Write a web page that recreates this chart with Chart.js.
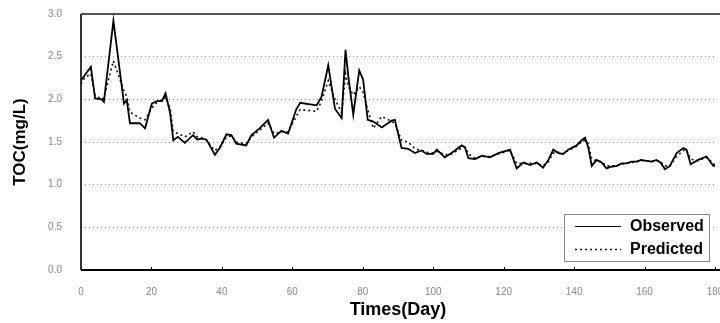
<!DOCTYPE html>
<html>
<head>
<meta charset="utf-8">
<script src="https://cdn.jsdelivr.net/npm/chart.js@4/dist/chart.umd.min.js"></script>
<style>
  html, body { margin: 0; padding: 0; background: #fff; }
  #wrap { width: 720px; height: 323px; }
</style>
</head>
<body>
<div id="wrap"><canvas id="tocChart" width="720" height="323"></canvas></div>
<script>
// sampling days (shared by both series)
var days = [0, 1, 2.8, 4, 5.9, 6.5, 9.2, 12.2, 13, 13.9, 16.7, 18.2, 20.1, 21.5, 23, 24,
  25.3, 26.2, 27.5, 29.5, 31.8, 33, 34.2, 35.6, 38, 39.4, 41.3, 42.7, 44.1, 46.9, 48.4,
  50.7, 53.1, 54.8, 56.9, 58.8, 61.1, 62.2, 66.9, 68.3, 70.2, 72.1, 74, 75.1, 75.9, 77.3,
  79, 80.1, 81.4, 83, 85.4, 88.2, 89.1, 91, 92.9, 94.8, 96.7, 98.1, 100, 101, 103.3,
  105.2, 108.1, 109, 110, 111.9, 113.8, 116.1, 118.5, 121.8, 123.7, 125.6, 127.5, 129.4,
  131.2, 132.7, 134.1, 135.5, 136.9, 138.3, 140.7, 142.1, 143.1, 144, 145, 146.4, 147.8,
  149.2, 150.5, 152.1, 153.5, 154.9, 156.3, 157.8, 159, 160.6, 162, 163.4, 164.5, 165.8,
  167.2, 169.1, 171, 171.9, 173.1, 175.2, 177.6, 179.5, 180];

var observed = [2.22, 2.28, 2.38, 2.01, 2.00, 1.97, 2.92, 1.95, 1.99, 1.72, 1.72, 1.66,
  1.95, 1.98, 1.98, 2.07, 1.84, 1.52, 1.56, 1.49, 1.58, 1.53, 1.54, 1.53, 1.35, 1.43,
  1.59, 1.58, 1.48, 1.46, 1.58, 1.66, 1.76, 1.55, 1.63, 1.60, 1.88, 1.96, 1.93, 2.03,
  2.40, 1.89, 1.78, 2.58, 2.27, 1.82, 2.34, 2.23, 1.76, 1.74, 1.67, 1.75, 1.76, 1.43,
  1.42, 1.37, 1.40, 1.36, 1.36, 1.41, 1.32, 1.37, 1.46, 1.44, 1.31, 1.30, 1.34, 1.32,
  1.37, 1.41, 1.19, 1.26, 1.23, 1.26, 1.20, 1.29, 1.41, 1.37, 1.36, 1.41, 1.46, 1.52,
  1.55, 1.44, 1.22, 1.29, 1.26, 1.19, 1.21, 1.22, 1.25, 1.25, 1.27, 1.27, 1.29, 1.28,
  1.27, 1.29, 1.26, 1.18, 1.22, 1.37, 1.43, 1.41, 1.24, 1.29, 1.33, 1.22, 1.22];

var predicted = [2.18, 2.25, 2.30, 2.05, 2.00, 2.02, 2.45, 2.10, 2.03, 1.85, 1.78, 1.76,
  1.90, 1.96, 2.00, 2.02, 1.90, 1.62, 1.60, 1.56, 1.62, 1.56, 1.55, 1.52, 1.40, 1.44,
  1.56, 1.57, 1.50, 1.48, 1.56, 1.64, 1.72, 1.60, 1.62, 1.62, 1.80, 1.88, 1.86, 1.98,
  2.22, 2.00, 1.84, 2.30, 2.15, 2.05, 2.15, 2.08, 1.88, 1.66, 1.80, 1.74, 1.72, 1.52,
  1.50, 1.42, 1.40, 1.38, 1.37, 1.39, 1.35, 1.36, 1.43, 1.44, 1.36, 1.31, 1.33, 1.33,
  1.36, 1.40, 1.25, 1.25, 1.25, 1.25, 1.22, 1.27, 1.37, 1.38, 1.36, 1.40, 1.45, 1.50,
  1.52, 1.48, 1.30, 1.28, 1.27, 1.22, 1.22, 1.22, 1.24, 1.25, 1.26, 1.27, 1.28, 1.28,
  1.27, 1.28, 1.27, 1.22, 1.22, 1.33, 1.40, 1.41, 1.30, 1.28, 1.32, 1.25, 1.23];

var seriesLabels = ['Observed', 'Predicted'];
var yTicks = [0, 0.5, 1.0, 1.5, 2.0, 2.5, 3.0];
var xTicks = [0, 20, 40, 60, 80, 100, 120, 140, 160, 180];

function toPoints(values) {
  var pts = [];
  for (var i = 0; i < days.length; i++) {
    pts.push({x: days[i], y: values[i]});
  }
  return pts;
}

// frame lines and small inward ticks on the time axis
var framePlugin = {
  id: 'frame',
  afterDatasetsDraw: function(chart) {
    var ctx = chart.ctx;
    var a = chart.chartArea;
    var xs = chart.scales.x;
    ctx.save();
    ctx.strokeStyle = '#555';
    ctx.lineWidth = 2;
    ctx.beginPath();
    ctx.moveTo(a.left, a.top);
    ctx.lineTo(720, a.top);
    ctx.stroke();
    ctx.strokeStyle = '#000';
    ctx.lineWidth = 1.6;
    ctx.beginPath();
    ctx.moveTo(a.left, a.top);
    ctx.lineTo(a.left, a.bottom);
    ctx.stroke();
    ctx.lineWidth = 2;
    ctx.beginPath();
    ctx.moveTo(a.left, a.bottom);
    ctx.lineTo(720, a.bottom);
    ctx.stroke();
    ctx.lineWidth = 1;
    xTicks.forEach(function(t) {
      var px = Math.round(xs.getPixelForValue(t)) + 0.5;
      ctx.beginPath();
      ctx.moveTo(px, a.bottom);
      ctx.lineTo(px, a.bottom - 3);
      ctx.stroke();
    });
    ctx.restore();
  }
};

// boxed legend in the lower right corner of the plot
var legendPlugin = {
  id: 'boxLegend',
  afterDraw: function(chart) {
    var ctx = chart.ctx;
    var box = {x: 564.5, y: 214.5, w: 145, h: 47};
    ctx.save();
    ctx.fillStyle = '#fff';
    ctx.fillRect(box.x, box.y, box.w, box.h);
    ctx.strokeStyle = '#888';
    ctx.lineWidth = 1;
    ctx.strokeRect(box.x, box.y, box.w, box.h);
    ctx.font = 'bold 16px "Liberation Sans", Arial, sans-serif';
    ctx.textBaseline = 'middle';
    ctx.fillStyle = '#000';
    chart.data.datasets.forEach(function(ds, i) {
      var ly = 226 + i * 23;
      ctx.strokeStyle = ds.borderColor;
      ctx.lineWidth = i === 0 ? 1.2 : 1.5;
      ctx.setLineDash(ds.borderDash || []);
      ctx.beginPath();
      ctx.moveTo(575, ly + 0.5);
      ctx.lineTo(621, ly + 0.5);
      ctx.stroke();
      ctx.setLineDash([]);
      ctx.fillText(ds.label, 630, ly + 1);
    });
    ctx.restore();
  }
};

function drawChart() {
  var ctx = document.getElementById('tocChart');
  new Chart(ctx, {
    type: 'line',
    data: {
      datasets: [{
        label: seriesLabels[0],
        data: toPoints(observed),
        borderColor: '#000',
        borderWidth: 1.8,
        pointRadius: 0,
        tension: 0
      }, {
        label: seriesLabels[1],
        data: toPoints(predicted),
        borderColor: '#111',
        borderWidth: 1.6,
        borderDash: [2, 3],
        pointRadius: 0,
        tension: 0
      }]
    },
    options: {
      responsive: false,
      animation: false,
      devicePixelRatio: 1,
      layout: {padding: {top: 14, right: 5, left: 0, bottom: 0}},
      plugins: {legend: {display: false}, tooltip: {enabled: false}},
      scales: {
        x: {
          type: 'linear',
          min: 0,
          max: 180,
          afterFit: function(s) {
            s.height = 53;
            s.paddingLeft = 0;
            s.paddingRight = 0;
          },
          afterBuildTicks: function(s) {
            s.ticks = xTicks.map(function(v) { return {value: v}; });
          },
          ticks: {
            padding: 8,
            maxRotation: 0,
            color: '#888',
            font: {family: '"Liberation Sans", Arial, sans-serif', size: 10},
            callback: function(v) { return String(v); }
          },
          grid: {display: false},
          border: {display: false},
          title: {
            display: true,
            text: 'Times(Day)',
            color: '#000',
            padding: {top: 0, bottom: 2},
            font: {family: '"Liberation Sans", Arial, sans-serif', size: 18, weight: 'bold'}
          }
        },
        y: {
          min: 0,
          max: 3,
          afterFit: function(s) {
            s.width = 81;
            s.paddingTop = 0;
            s.paddingBottom = 0;
          },
          afterBuildTicks: function(s) {
            s.ticks = yTicks.map(function(v) { return {value: v}; });
          },
          ticks: {
            padding: 19,
            color: '#888',
            font: {family: '"Liberation Sans", Arial, sans-serif', size: 10},
            callback: function(v) { return Number(v).toFixed(1); }
          },
          grid: {
            drawTicks: false,
            lineWidth: 1,
            color: function(c) {
              var v = c.tick ? c.tick.value : 0;
              return (v === 0 || v === 3) ? 'rgba(0,0,0,0)' : '#8c8c8c';
            }
          },
          border: {display: false, dash: [1, 3]},
          title: {
            display: true,
            text: 'TOC(mg/L)',
            color: '#000',
            padding: {top: 10, bottom: 0},
            font: {family: '"Liberation Sans", Arial, sans-serif', size: 17, weight: 'bold'}
          }
        }
      }
    },
    plugins: [framePlugin, legendPlugin]
  });
}

drawChart();
</script>
</body>
</html>
